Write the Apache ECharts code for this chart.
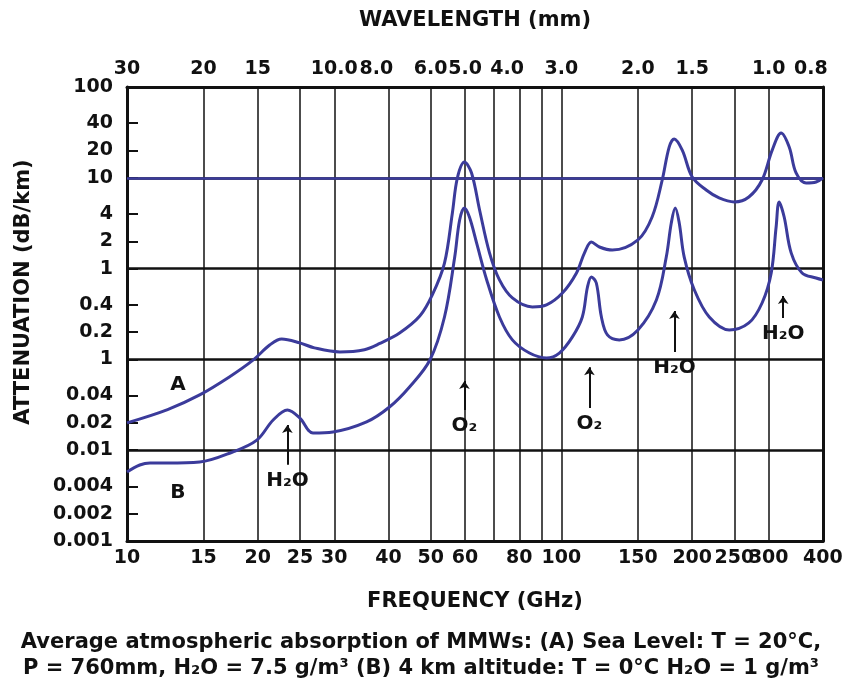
<!DOCTYPE html>
<html>
<head>
<meta charset="UTF-8">
<script src="https://cdn.jsdelivr.net/npm/echarts@6/dist/echarts.min.js"></script>
<style>
html, body { margin: 0; padding: 0; background: #fff; }
#chart { width: 842px; height: 687px; }
</style>
</head>
<body>
<div id="chart"></div>
<script>
// frequency axis (GHz)
var freqLabels = [10, 15, 20, 25, 30, 40, 50, 60, 80, 100, 150, 200, 250, 300, 399.9];
var freqGrid = [10, 15, 20, 25, 30, 40, 50, 60, 70, 80, 90, 100, 150, 200, 250, 300, 400];
var freqText = ['10', '15', '20', '25', '30', '40', '50', '60', '80', '100', '150', '200', '250', '300', '400'];
// wavelength axis (mm) placed at the matching frequency
var waveFreqs = [10, 15, 20, 30, 37.5, 50, 60, 75, 100, 150, 200, 300, 375];
var waveLabels = ['30', '20', '15', '10.0', '8.0', '6.0', '5.0', '4.0', '3.0', '2.0', '1.5', '1.0', '0.8'];
// attenuation axis (dB/km)
var attenTicks = [100, 40, 20, 10, 4, 2, 1, 0.4, 0.2, 0.1, 0.04, 0.02, 0.01, 0.004, 0.002, 0.001];
var attenLabels = ['100', '40', '20', '10', '4', '2', '1', '0.4', '0.2', '1', '0.04', '0.02', '0.01', '0.004', '0.002', '0.001'];

// curve A: sea level, T = 20C, H2O = 7.5 g/m3  [GHz, dB/km]
var seaLevel = [
  [10, 0.020], [12.4, 0.028], [14.7, 0.0406], [17.2, 0.064], [19.5, 0.098], [21.3, 0.144],
  [22.7, 0.168], [25, 0.152], [27, 0.134], [30.9, 0.121], [35.2, 0.128], [38.2, 0.150],
  [42.4, 0.195], [47.2, 0.300], [50.5, 0.52], [53.8, 1.15], [56.1, 4.1], [57.6, 9.95],
  [59.8, 14.9], [62.1, 11.3], [64.8, 4.42], [68.3, 1.49], [72, 0.75], [77.1, 0.475],
  [85.7, 0.378], [92.4, 0.398], [100.5, 0.538], [108.3, 0.895], [113, 1.49], [117.2, 1.96],
  [122.3, 1.73], [131, 1.60], [150, 2.07], [161.7, 3.70], [170.6, 9.46], [177, 21.8],
  [181.8, 26.8], [189.7, 20.2], [200, 10.2], [215.4, 7.34], [230.6, 6.0], [250, 5.42],
  [270, 6.15], [289.6, 9.46], [305.6, 20.2], [320.4, 31.1], [334.4, 21.8], [346.8, 11.3],
  [365.7, 8.77], [385.6, 8.99], [400, 10]
];

// curve B: 4 km altitude, T = 0C, H2O = 1 g/m3
var altitude4km = [
  [10, 0.00575], [10.7, 0.00687], [11.3, 0.00723], [12.4, 0.00723], [14.7, 0.00741],
  [17.5, 0.00955], [19.9, 0.0129], [21.7, 0.0215], [23.4, 0.0277], [25, 0.0226],
  [26.8, 0.0155], [29.8, 0.0159], [35.6, 0.0205], [40.2, 0.0299], [44.7, 0.0497],
  [49.8, 0.0985], [53.8, 0.293], [56.8, 1.34], [58.3, 3.43], [59.8, 4.65], [61.4, 3.70],
  [63.8, 1.91], [67.3, 0.75], [72, 0.293], [77.1, 0.164], [84.4, 0.1175], [92.4, 0.1036],
  [98.9, 0.1175], [106, 0.177], [111.7, 0.293], [114.8, 0.627], [117.2, 0.81], [120.3, 0.694],
  [123.6, 0.293], [127.6, 0.186], [135.9, 0.164], [150, 0.211], [165.4, 0.451], [174.3, 1.34],
  [179, 3.18], [182.8, 4.65], [186.7, 3.18], [191.7, 1.34], [202.3, 0.581], [218.9, 0.293],
  [243.4, 0.211], [270, 0.252], [289.6, 0.418], [304, 0.895], [312, 2.87], [317, 5.42],
  [325.6, 3.70], [337.9, 1.49], [358, 0.895], [385.6, 0.788], [400, 0.75]
];

// absorption line markers: name, freq, arrow tail, arrow tip
var lineMarks = [
  ['H₂O', 23.4, 0.0069, 0.019],
  ['O₂', 59.8, 0.0277, 0.058],
  ['O₂', 116, 0.0292, 0.082],
  ['H₂O', 182, 0.121, 0.341],
  ['H₂O', 324, 0.286, 0.499]
];
var curveNames = [['A', 13.1, 0.052], ['B', 13.1, 0.0034]];

var BLUE = '#3b3b9b';
var FONT = 'DejaVu Sans';

function nearestIdx(list, v) {
  var best = 0;
  for (var i = 1; i < list.length; i++) {
    if (Math.abs(Math.log(list[i] / v)) < Math.abs(Math.log(list[best] / v))) best = i;
  }
  return best;
}

var chart = echarts.init(document.getElementById('chart'));
var labelFont = { fontFamily: FONT, fontWeight: 'bold', fontSize: 19, color: '#111' };
var nameFont = { fontFamily: FONT, fontWeight: 'bold', fontSize: 21, color: '#111' };

var option = {
  backgroundColor: '#fff',
  animation: false,
  graphic: [{
    type: 'text',
    left: 'center',
    top: 630,
    style: {
      text: 'Average atmospheric absorption of MMWs: (A) Sea Level: T = 20°C,\nP = 760mm, H₂O = 7.5 g/m³ (B) 4 km altitude: T = 0°C H₂O = 1 g/m³',
      textAlign: 'center',
      font: 'bold 21px "DejaVu Sans"',
      lineHeight: 26,
      fill: '#111'
    }
  }],
  grid: { left: 127, right: 19, top: 87, bottom: 146, outerBoundsMode: 'none' },
  xAxis: [{
    type: 'log', min: 10, max: 400, position: 'bottom',
    name: 'FREQUENCY (GHz)', nameLocation: 'middle', nameGap: 50,
    nameTextStyle: nameFont,
    axisLine: { show: true, lineStyle: { color: '#111', width: 3 } },
    axisTick: { show: false, customValues: freqGrid },
    axisLabel: Object.assign({
      customValues: freqLabels, margin: 8,
      formatter: function (v) { return freqText[nearestIdx(freqLabels, v)]; }
    }, labelFont),
    splitLine: { show: true, lineStyle: { color: '#111', width: 1.5 } },
    minorTick: { show: false }
  }, {
    type: 'log', min: 10, max: 400, position: 'top',
    name: 'WAVELENGTH (mm)', nameLocation: 'middle', nameGap: 56,
    nameTextStyle: nameFont,
    axisLine: { show: true, lineStyle: { color: '#111', width: 3 } },
    axisTick: { show: false, customValues: waveFreqs },
    axisLabel: Object.assign({
      customValues: waveFreqs, margin: 8,
      formatter: function (v) { return waveLabels[nearestIdx(waveFreqs, v)]; }
    }, labelFont),
    splitLine: { show: false }
  }],
  yAxis: [{
    type: 'log', min: 0.001, max: 100, position: 'left',
    name: 'ATTENUATION (dB/km)', nameLocation: 'middle', nameGap: 93,
    nameTextStyle: Object.assign({ padding: [0, 0, 0, 44] }, nameFont),
    axisLine: { show: true, lineStyle: { color: '#111', width: 3 } },
    axisTick: { show: true, inside: true, length: 11, customValues: attenTicks, lineStyle: { color: '#111', width: 2 } },
    axisLabel: Object.assign({
      customValues: attenTicks, margin: 14,
      formatter: function (v) { return attenLabels[nearestIdx(attenTicks, v)]; }
    }, labelFont),
    splitLine: { show: false }
  }, {
    type: 'log', min: 0.001, max: 100, position: 'right',
    axisLine: { show: true, lineStyle: { color: '#111', width: 3 } },
    axisTick: { show: false },
    axisLabel: { show: false },
    splitLine: { show: true, lineStyle: { color: '#111', width: 2.5 } }
  }],
  series: [{
    name: 'A', type: 'line', data: seaLevel, smooth: 0.35, showSymbol: false,
    lineStyle: { color: BLUE, width: 3 }, z: 5,
    markLine: {
      silent: true, symbol: 'none', label: { show: false },
      lineStyle: { color: BLUE, width: 2.5, type: 'solid' },
      data: [{ yAxis: 10 }]
    }
  }, {
    name: 'B', type: 'line', data: altitude4km, smooth: 0.35, showSymbol: false,
    lineStyle: { color: BLUE, width: 3 }, z: 5,
    markLine: {
      silent: true, symbol: ['none', 'arrow'], symbolSize: 8,
      lineStyle: { color: '#111', width: 2, type: 'solid' },
      label: { show: true, position: 'start', distance: 6, formatter: '{b}',
        fontFamily: FONT, fontWeight: 'bold', fontSize: 20, color: '#111' },
      data: lineMarks.map(function (m) {
        return [{ name: m[0], coord: [m[1], m[2]] }, { coord: [m[1], m[3]] }];
      })
    }
  }, {
    type: 'scatter', symbolSize: 0, silent: true, z: 6,
    itemStyle: { color: '#111', opacity: 1 },
    data: curveNames.map(function (c) { return { name: c[0], value: [c[1], c[2]] }; }),
    label: { show: true, position: 'inside', formatter: '{b}',
      fontFamily: FONT, fontWeight: 'bold', fontSize: 20, color: '#111',
      textBorderWidth: 0, textBorderColor: 'transparent' }
  }]
};
chart.setOption(option);
</script>
</body>
</html>
